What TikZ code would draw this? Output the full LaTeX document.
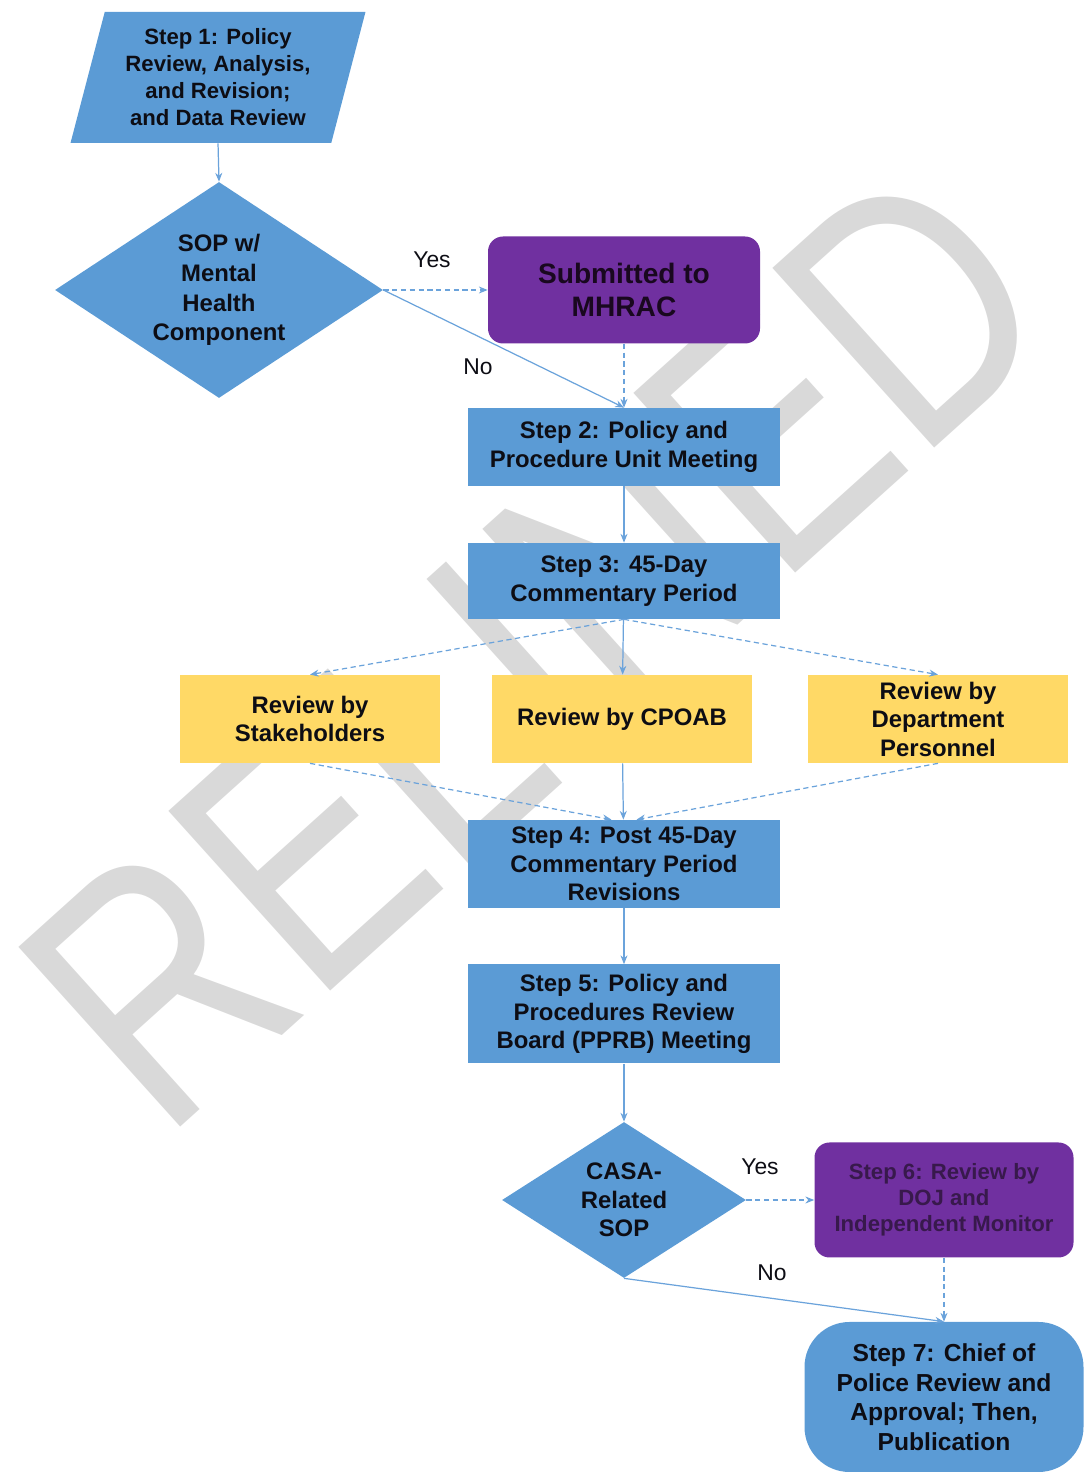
\documentclass[tikz,border=0pt]{standalone}
\usepackage{fontspec}
\setmainfont{Liberation Sans}
\usetikzlibrary{arrows.meta,shapes}

\begin{document}
\begin{tikzpicture}[
  box/.style={fill=cbox,text=ctxt,font=\bfseries\fontsize{13.6}{16.2}\selectfont,align=center,inner sep=0pt},
  stepbox/.style={box,shape=rectangle,minimum width=6.24cm},
  revbox/.style={box,fill=crev,shape=rectangle,minimum width=5.2cm,minimum height=1.76cm},
  mhbox/.style={box,fill=cmh,shape=rectangle,rounded corners=0.3cm},
  askbox/.style={box,shape=diamond},
  lbl/.style={text=ctxt,font=\fontsize{13}{15}\selectfont,inner sep=0pt},
  link/.style={draw=cline,line width=0.7pt,-{Stealth[length=5pt,width=4pt]}},
  dlink/.style={link,dash pattern=on 3pt off 2pt}
]
%
\useasboundingbox (0,0) rectangle (21.72cm,29.6cm);
%
\definecolor{cbox}{rgb}{0.357,0.608,0.835}
\definecolor{crev}{rgb}{1.0,0.851,0.4}
\definecolor{cmh}{rgb}{0.439,0.188,0.627}
\definecolor{cline}{rgb}{0.42,0.64,0.86}
\definecolor{ctxt}{rgb}{0.05,0.05,0.08}
\definecolor{cmhtxt}{rgb}{0.1,0.03,0.12}
\definecolor{csixtxt}{rgb}{0.22,0.1,0.3}
\definecolor{cwm}{rgb}{0.851,0.851,0.851}
%
\node[text=cwm,font=\fontsize{160}{160}\selectfont,rotate=42,yscale=1.25,inner sep=0pt] (wm) at (10.7cm,16.7cm) {RELINED};
%
\node[box,shape=trapezium,trapezium left angle=74,trapezium right angle=106,trapezium stretches=true,minimum width=5.9cm,minimum height=2.62cm,font=\bfseries\fontsize{12.6}{15.4}\selectfont] (s1) at (4.36cm,28.05cm) {Step 1: Policy\\Review, Analysis,\\and Revision;\\and Data Review};
\node[askbox,aspect=1.52,minimum width=6.56cm,minimum height=4.32cm,font=\bfseries\fontsize{13.6}{17}\selectfont] (d1) at (4.38cm,23.8cm) {SOP w/\\Mental\\Health\\Component};
\node[mhbox,minimum width=5.44cm,minimum height=2.14cm,text=cmhtxt,font=\bfseries\fontsize{16}{19}\selectfont] (mhrac) at (12.48cm,23.8cm) {Submitted to\\MHRAC};
\node[stepbox,minimum height=1.56cm] (s2) at (12.48cm,20.66cm) {Step 2: Policy and\\Procedure Unit Meeting};
\node[stepbox,minimum height=1.52cm] (s3) at (12.48cm,17.98cm) {Step 3: 45-Day\\Commentary Period};
\node[revbox] (rstake) at (6.2cm,15.22cm) {Review by\\Stakeholders};
\node[revbox] (rcpoab) at (12.44cm,15.22cm) {Review by CPOAB};
\node[revbox] (rdept) at (18.76cm,15.22cm) {Review by\\Department\\Personnel};
\node[stepbox,minimum height=1.76cm] (s4) at (12.48cm,12.32cm) {Step 4: Post 45-Day\\Commentary Period\\Revisions};
\node[stepbox,minimum height=1.98cm] (s5) at (12.48cm,9.32cm) {Step 5: Policy and\\Procedures Review\\Board (PPRB) Meeting};
\node[askbox,aspect=1.56,minimum width=4.88cm,minimum height=3.12cm] (d2) at (12.48cm,5.6cm) {CASA-\\Related\\SOP};
\node[mhbox,minimum width=5.18cm,minimum height=2.3cm,text=csixtxt,font=\bfseries\fontsize{12.6}{14.8}\selectfont] (s6) at (18.88cm,5.6cm) {Step 6: Review by\\DOJ and\\Independent Monitor};
\node[box,shape=rectangle,rounded corners=0.9cm,minimum width=5.58cm,minimum height=3.0cm,font=\bfseries\fontsize{14}{16.8}\selectfont] (s7) at (18.88cm,1.66cm) {Step 7: Chief of\\Police Review and\\Approval; Then,\\Publication};
%
\node[lbl] (yes1) at (8.64cm,24.4cm) {Yes};
\node[lbl] (no1) at (9.56cm,22.26cm) {No};
\node[lbl] (yes2) at (15.2cm,6.26cm) {Yes};
\node[lbl] (no2) at (15.44cm,4.14cm) {No};
%
\draw[link] (s1.south) -- (d1.north);
\draw[dlink] (d1.east) -- (mhrac.west);
\draw[link] (d1.east) -- (s2.north);
\draw[dlink] (mhrac.south) -- (s2.north);
\draw[link] (s2) -- (s3);
\draw[dlink] (s3.south) -- (rstake.north);
\draw[link] (s3) -- (rcpoab);
\draw[dlink] (s3.south) -- (rdept.north);
\draw[dlink] (rstake.south) -- ([xshift=-0.25cm]s4.north);
\draw[link] (rcpoab) -- (s4);
\draw[dlink] (rdept.south) -- ([xshift=0.25cm]s4.north);
\draw[link] (s4) -- (s5);
\draw[link] (s5) -- (d2);
\draw[dlink] (d2.east) -- (s6.west);
\draw[link] (d2.south) -- (s7.north);
\draw[dlink] (s6) -- (s7);
%
\end{tikzpicture}
\end{document}
